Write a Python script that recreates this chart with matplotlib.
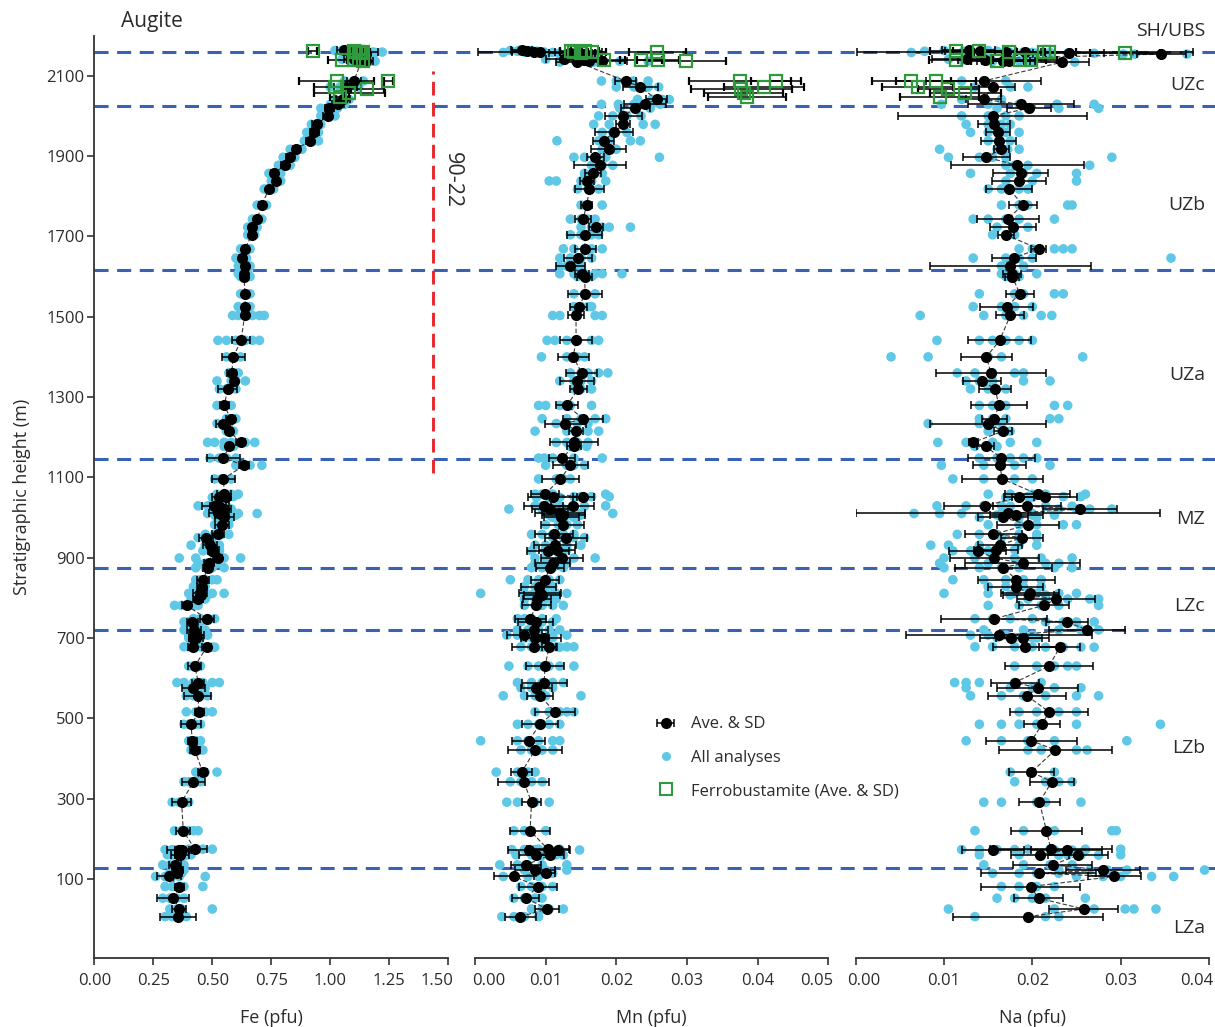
import matplotlib.pyplot as plt
from matplotlib.lines import Line2D
from matplotlib.ticker import FormatStrFormatter
from matplotlib.transforms import ScaledTranslation

plt.rcParams['font.family'] = ['Open Sans', 'DejaVu Sans']

# ===== DATA =====
# sample heights (m), shared by the three panels, grouped by zone
heights = [
    2163, 2161, 2159, 2158, 2156, 2154, 2141, 2139, 2137, 2136, 2134,  # SH/UBS
    2087, 2072, 2041, 2029, 2019,  # UZc
    2000, 1979, 1959, 1938, 1917, 1897, 1877, 1857, 1838, 1818, 1778, 1743, 1723, 1704, 1669, 1646, 1626,  # UZb
    1607, 1600, 1557, 1525, 1503, 1441, 1400, 1360, 1340, 1320, 1279, 1246, 1234, 1215, 1187, 1177,  # UZa
    1148, 1130, 1096, 1058, 1052, 1050, 1029, 1028, 1021, 1010, 1006, 1000, 982, 958, 950, 931, 920, 917, 899, 886, 875,  # MZ
    845, 828, 811, 807, 797, 781, 748, 740, 720,  # LZc
    707, 701, 700, 678, 677, 630, 589, 576, 556, 516, 485, 444, 421, 366, 342, 291, 220, 173, 174, 172, 160, 159, 135,  # LZb
    122, 114, 106, 81, 52, 25, 6,  # LZa
]

fe_avg = [
    1.06, 1.10, 1.12, 1.14, 1.13, 1.15, 1.10, 1.12, 1.14, 1.15, 1.13,
    1.10, 1.065, 1.053, 1.032, 0.996,
    0.989, 0.942, 0.932, 0.914, 0.855, 0.829, 0.808, 0.761, 0.770, 0.740, 0.709, 0.691, 0.670, 0.667, 0.639, 0.625, 0.639,
    0.634, 0.634, 0.639, 0.639, 0.637, 0.622, 0.589, 0.582, 0.592, 0.565, 0.551, 0.578, 0.547, 0.572, 0.620, 0.572,
    0.547, 0.635, 0.547, 0.551, 0.560, 0.530, 0.508, 0.530, 0.550, 0.525, 0.540, 0.550, 0.540, 0.525, 0.474, 0.491, 0.505, 0.500, 0.523, 0.486, 0.480,
    0.462, 0.455, 0.448, 0.450, 0.440, 0.391, 0.477, 0.416, 0.423,
    0.433, 0.430, 0.420, 0.417, 0.476, 0.426, 0.441, 0.420, 0.438, 0.445, 0.410, 0.415, 0.426, 0.459, 0.420, 0.370, 0.377, 0.360, 0.426, 0.370, 0.363, 0.360, 0.342,
    0.356, 0.350, 0.317, 0.360, 0.335, 0.360, 0.356,
]
fe_sd = [
    0.03, 0.05, 0.03, 0.06, 0.03, 0.02, 0.04, 0.05, 0.03, 0.03, 0.02,
    0.03, 0.05, 0.03, 0.025, 0.02,
    0.02, 0.02, 0.02, 0.015, 0.015, 0.015, 0.015, 0.012, 0.01, 0.01, 0.01, 0.01, 0.01, 0.01, 0.01, 0.012, 0.01,
    0.01, 0.01, 0.01, 0.01, 0.01, 0.037, 0.05, 0.02, 0.01, 0.04, 0.02, 0.02, 0.03, 0.01, 0.02, 0.01,
    0.07, 0.02, 0.05, 0.03, 0.02, 0.03, 0.05, 0.04, 0.03, 0.04, 0.03, 0.04, 0.03, 0.025, 0.03, 0.03, 0.025, 0.02, 0.02, 0.02, 0.02,
    0.025, 0.02, 0.03, 0.02, 0.02, 0.02, 0.03, 0.025, 0.03,
    0.03, 0.03, 0.02, 0.02, 0.02, 0.028, 0.025, 0.05, 0.056, 0.02, 0.044, 0.02, 0.02, 0.02, 0.05, 0.039, 0.03, 0.05, 0.05, 0.03, 0.04, 0.02, 0.025,
    0.02, 0.02, 0.05, 0.02, 0.068, 0.03, 0.076,
]
mn_avg = [
    .0066, .0073, .0083, .0092, .0135, .0154, .0126, .0154, .0161, .0180, .0145,
    .0213, .0234, .0257, .0241, .0227,
    .0210, .0210, .0197, .0182, .0189, .0170, .0177, .0167, .0159, .0162, .0158, .0153, .0171, .0155, .0156, .0146, .0135,
    .0151, .0155, .0156, .0147, .0143, .0143, .0139, .0151, .0145, .0146, .0130, .0153, .0128, .0143, .0140, .0140,
    .0123, .0135, .0121, .0099, .0153, .0110, .0097, .0138, .0106, .0120, .0125, .0122, .0124, .0112, .0129, .0113, .0116, .0103, .0123, .0110, .0106,
    .0099, .0090, .0092, .0095, .0088, .0087, .0078, .0086, .0083,
    .0070, .0097, .0085, .0084, .0105, .0099, .0098, .0087, .0092, .0113, .0092, .0076, .0085, .0066, .0069, .0080, .0078, .0077, .0103, .0117, .0087, .0106, .0072,
    .0085, .0100, .0055, .0089, .0072, .0102, .0064,
]
mn_sd = [
    .0015, .002, .003, .0088, .003, .0025, .0025, .003, .002, .0035, .003,
    .0015, .0025, .0015, .003, .002,
    .0026, .001, .0027, .0015, .0025, .0012, .0037, .0012, .001, .002, .0008, .0011, .001, .0025, .0015, .002, .002,
    .001, .001, .0024, .0012, .0011, .0022, .0022, .0022, .0024, .0012, .0016, .0028, .0029, .001, .0034, .001,
    .0018, .0025, .0026, .002, .0015, .0035, .0028, .003, .0025, .0035, .003, .0025, .003, .0027, .003, .003, .0025, .003, .003, .0025, .002,
    .002, .0025, .003, .0025, .002, .002, .0022, .0025, .002,
    .0025, .0025, .002, .0032, .001, .0027, .0032, .0022, .0019, .0028, .0025, .0023, .0038, .0015, .0036, .0014, .0028, .003, .003, .0017, .0025, .002, .0021,
    .0028, .0013, .0028, .0027, .0019, .0017, .0022,
]
na_avg = [
    .0128, .0141, .0170, .0192, .0241, .0346, .0126, .0146, .0167, .0173, .0234,
    .0145, .0155, .0145, .0187, .0196,
    .0155, .0157, .0161, .0162, .0165, .0148, .0183, .0187, .0185, .0174, .0189, .0172, .0178, .0170, .0207, .0179, .0175,
    .0177, .0177, .0186, .0171, .0175, .0163, .0148, .0153, .0143, .0158, .0162, .0157, .0150, .0167, .0133, .0147,
    .0165, .0163, .0166, .0206, .0214, .0185, .0146, .0194, .0254, .0172, .0182, .0167, .0195, .0156, .0188, .0163, .0159, .0138, .0157, .0189, .0167,
    .0182, .0181, .0197, .0196, .0227, .0213, .0157, .0239, .0262,
    .0162, .0176, .0189, .0192, .0231, .0219, .0180, .0206, .0194, .0219, .0211, .0199, .0226, .0199, .0222, .0208, .0216, .0155, .0221, .0239, .0209, .0252, .0223,
    .0280, .0207, .0293, .0198, .0207, .0258, .0195,
]
na_sd = [
    .003, .004, .004, .019, .004, .0028, .004, .003, .003, .003, .003,
    .0065, .0025, .002, .006, .0025,
    .0107, .0018, .0014, .002, .0008, .0027, .0075, .0031, .0031, .0026, .0016, .0035, .0026, .0009, .0009, .0025, .0091,
    .001, .0008, .0016, .003, .0016, .0036, .0029, .0062, .0022, .0018, .0032, .0014, .0066, .001, .0005, .001,
    .0038, .003, .0046, .0037, .0037, .0017, .0046, .0039, .0042, .0172, .003, .0028, .0035, .0032, .0024, .0025, .0025, .0032, .005, .0065, .0055,
    .0044, .0031, .0033, .0029, .0044, .0028, .006, .0024, .0043,
    .0105, .0035, .003, .0037, .0023, .005, .0027, .0046, .0044, .0044, .002, .0052, .0064, .0026, .0025, .0023, .004, .0035, .0069, .004, .0033, .0034, .0045,
    .0042, .0065, .003, .0056, .0028, .0039, .0085,
]

# individual analyses per sample
fe_all = [
    [1.02, 1.05, 1.08], [1.07, 1.12, 1.15], [1.09, 1.14, 1.18, 1.22], [1.10, 1.16, 1.19], [1.11, 1.14, 1.17], [1.13, 1.16, 1.18],
    [1.05, 1.10, 1.15], [1.08, 1.13, 1.17], [1.11, 1.15, 1.18], [1.12, 1.16, 1.19], [1.10, 1.13, 1.16],
    [1.06, 1.10, 1.14], [1.00, 1.04, 1.08, 1.12], [1.02, 1.05, 1.08], [1.00, 1.03, 1.06], [0.96, 0.99, 1.03],
    [0.96, 0.98, 1.00, 1.02], [0.92, 0.94, 0.96], [0.90, 0.93, 0.95], [0.89, 0.91, 0.93, 0.95], [0.83, 0.86, 0.88], [0.80, 0.83, 0.85],
    [0.78, 0.81, 0.83], [0.74, 0.76, 0.79], [0.75, 0.77, 0.79], [0.72, 0.74, 0.76], [0.69, 0.71, 0.73], [0.67, 0.69, 0.71],
    [0.65, 0.67, 0.69], [0.65, 0.667, 0.68], [0.62, 0.64, 0.66], [0.60, 0.625, 0.645], [0.61, 0.63, 0.66],
    [0.61, 0.63, 0.65], [0.62, 0.64, 0.66], [0.62, 0.64, 0.66], [0.61, 0.64, 0.66], [0.586, 0.61, 0.64, 0.67, 0.70, 0.72],
    [0.524, 0.56, 0.60, 0.64, 0.67, 0.70], [0.56, 0.59, 0.62], [0.57, 0.59, 0.61], [0.52, 0.58, 0.60, 0.64], [0.53, 0.56, 0.60],
    [0.52, 0.55, 0.58], [0.56, 0.58, 0.60], [0.52, 0.55, 0.57], [0.56, 0.575, 0.59], [0.48, 0.51, 0.55, 0.58, 0.64, 0.68], [0.55, 0.57, 0.59],
    [0.49, 0.53, 0.56, 0.60], [0.60, 0.63, 0.66, 0.71], [0.51, 0.54, 0.58], [0.52, 0.55, 0.58, 0.61], [0.54, 0.56, 0.59], [0.50, 0.53, 0.56],
    [0.44, 0.48, 0.51, 0.53], [0.50, 0.53, 0.56], [0.53, 0.55, 0.58], [0.48, 0.51, 0.53, 0.56, 0.61, 0.69], [0.51, 0.54, 0.57, 0.60],
    [0.52, 0.55, 0.58], [0.51, 0.54, 0.57], [0.47, 0.51, 0.54, 0.57], [0.44, 0.47, 0.50], [0.41, 0.47, 0.49, 0.51, 0.53], [0.47, 0.50, 0.53],
    [0.46, 0.50, 0.53], [0.36, 0.43, 0.51, 0.53, 0.55, 0.62], [0.44, 0.47, 0.49, 0.52], [0.43, 0.47, 0.50, 0.55],
    [0.43, 0.45, 0.47, 0.50, 0.52], [0.42, 0.45, 0.47], [0.40, 0.43, 0.45, 0.47, 0.50, 0.55], [0.42, 0.45, 0.48], [0.41, 0.44, 0.47],
    [0.34, 0.37, 0.39, 0.42, 0.44], [0.42, 0.45, 0.48, 0.51], [0.38, 0.40, 0.43, 0.45], [0.38, 0.41, 0.44, 0.47],
    [0.40, 0.43, 0.46, 0.48], [0.41, 0.43, 0.45], [0.40, 0.42, 0.44], [0.38, 0.40, 0.42, 0.45], [0.46, 0.48, 0.50, 0.51],
    [0.40, 0.42, 0.44, 0.45], [0.35, 0.38, 0.42, 0.46, 0.50, 0.53], [0.39, 0.42, 0.45, 0.47], [0.39, 0.42, 0.45, 0.48],
    [0.39, 0.43, 0.45, 0.47, 0.50], [0.38, 0.40, 0.43, 0.45], [0.40, 0.41, 0.43, 0.45], [0.41, 0.43, 0.45, 0.46],
    [0.43, 0.45, 0.47, 0.52], [0.38, 0.40, 0.43, 0.45], [0.33, 0.36, 0.38, 0.40], [0.34, 0.37, 0.40, 0.42, 0.44],
    [0.30, 0.33, 0.36, 0.40], [0.40, 0.43, 0.46, 0.50], [0.34, 0.37, 0.40], [0.31, 0.35, 0.38, 0.41], [0.33, 0.36, 0.39],
    [0.29, 0.32, 0.35, 0.38],
    [0.33, 0.35, 0.38], [0.32, 0.34, 0.37], [0.26, 0.30, 0.33, 0.36, 0.47], [0.30, 0.33, 0.36, 0.38, 0.46], [0.29, 0.32, 0.35, 0.38],
    [0.32, 0.35, 0.37, 0.50], [0.30, 0.33, 0.36, 0.39],
]
mn_all = [
    [.0050, .0062, .0080], [.0060, .0075, .0088], [.0070, .0085, .0098], [.0040, .0090, .0110, .0140], [.0118, .0132, .0150],
    [.0135, .0155, .0172], [.0100, .0125, .0148], [.0128, .0150, .0178], [.0142, .0160, .0180], [.0160, .0182, .0205, .0245],
    [.0120, .0145, .0168],
    [.0179, .0200, .0224, .0245], [.0200, .0225, .0245, .0260], [.0230, .0250, .0265, .0275], [.0179, .0203, .0225, .0250, .0262],
    [.0205, .0225, .0248],
    [.0175, .0195, .0215, .0235], [.0168, .0190, .0210, .0238, .0255], [.0180, .0195, .0215], [.0116, .0175, .0190, .0220, .0234],
    [.0180, .0190, .0200], [.0140, .0155, .0170, .0185, .0261], [.0165, .0180, .0195], [.0155, .0168, .0180],
    [.0105, .0115, .0150, .0165, .0185], [.0145, .0160, .0175], [.0150, .0160, .0180], [.0135, .0150, .0160, .0170],
    [.0150, .0165, .0180, .0190, .0220], [.0135, .0150, .0165, .0175], [.0125, .0140, .0155, .0165, .0180],
    [.0120, .0135, .0150, .0165], [.0120, .0130, .0140, .0150],
    [.0120, .0140, .0155, .0170, .0180, .0208], [.0145, .0155, .0165], [.0140, .0155, .0170], [.0140, .0150, .0160, .0165],
    [.0110, .0120, .0145, .0170, .0180], [.0102, .0113, .0130, .0145, .0165, .0175], [.0094, .0130, .0145, .0155],
    [.0135, .0150, .0160, .0175, .0188], [.0120, .0140, .0150, .0165], [.0140, .0150, .0165], [.0090, .0100, .0120, .0135, .0165],
    [.0095, .0130, .0150, .0170, .0185], [.0115, .0130, .0145, .0160], [.0085, .0130, .0145, .0160, .0175],
    [.0115, .0130, .0145, .0160], [.0135, .0145, .0158],
    [.0090, .0098, .0110, .0125, .0140, .0180], [.0100, .0130, .0140, .0155], [.0090, .0115, .0125, .0135], [.0085, .0095, .0110, .0185],
    [.0140, .0150, .0165, .0190], [.0087, .0105, .0120], [.0085, .0095, .0110, .0185], [.0120, .0138, .0155],
    [.0048, .0095, .0110, .0125], [.0100, .0115, .0130, .0150, .0195], [.0105, .0120, .0135, .0150], [.0110, .0125, .0140],
    [.0100, .0118, .0130, .0145], [.0080, .0095, .0110, .0125, .0140], [.0110, .0125, .0140, .0155],
    [.0085, .0100, .0115, .0130, .0150], [.0100, .0115, .0130], [.0080, .0100, .0120], [.0085, .0100, .0120, .0140, .0170],
    [.0085, .0100, .0115, .0130], [.0080, .0095, .0110, .0125],
    [.0050, .0075, .0090, .0105, .0120], [.0070, .0085, .0100, .0110], [.0008, .0070, .0085, .0100, .0115, .0130],
    [.0080, .0095, .0110], [.0070, .0085, .0100, .0115], [.0070, .0085, .0095, .0110, .0125], [.0060, .0070, .0080, .0095, .0115],
    [.0065, .0080, .0095, .0110], [.0060, .0075, .0090, .0105, .0120],
    [.0045, .0060, .0075, .0090, .0110, .0130], [.0080, .0095, .0110], [.0070, .0085, .0100],
    [.0065, .0080, .0095, .0115, .0130, .0140], [.0095, .0105, .0120], [.0048, .0075, .0090, .0105, .0120, .0140],
    [.0060, .0080, .0095, .0110, .0125], [.0065, .0080, .0095, .0110], [.0040, .0070, .0085, .0100, .0150],
    [.0085, .0105, .0120, .0130, .0140], [.0060, .0075, .0090, .0105, .0120], [.0008, .0060, .0075, .0090, .0110, .0120],
    [.0065, .0080, .0095, .0110], [.0030, .0060, .0075, .0085], [.0050, .0065, .0080, .0095], [.0045, .0060, .0085, .0105],
    [.0055, .0070, .0080, .0100], [.0052, .0070, .0085], [.0090, .0105, .0120], [.0105, .0120, .0148],
    [.0058, .0080, .0095, .0115], [.0095, .0110, .0125], [.0035, .0060, .0075, .0095, .0130],
    [.0070, .0085, .0100, .0130], [.0090, .0100, .0110], [.0040, .0055, .0075, .0090], [.0065, .0080, .0095, .0110],
    [.0055, .0070, .0085, .0095], [.0080, .0095, .0105, .0125], [.0038, .0055, .0070, .0090],
]
na_all = [
    [.0100, .0128, .0150], [.0078, .0122, .0141, .0160], [.0150, .0170, .0190], [.0063, .0175, .0200, .0220], [.0205, .0240, .0270],
    [.0303, .0316, .0346, .0375], [.0105, .0126, .0148], [.0120, .0146, .0170], [.0150, .0167, .0185], [.0155, .0173, .0195],
    [.0200, .0234, .0248],
    [.0120, .0145, .0170], [.0135, .0155, .0175, .0195], [.0120, .0145, .0165], [.0097, .0150, .0185, .0228, .0270],
    [.0160, .0195, .0230, .0275],
    [.0120, .0150, .0170, .0185], [.0125, .0150, .0165, .0175], [.0130, .0150, .0170, .0185], [.0150, .0162, .0175],
    [.0095, .0160, .0172, .0185], [.0105, .0140, .0155, .0170, .0290], [.0170, .0180, .0195, .0265],
    [.0130, .0175, .0190, .0205, .0250], [.0170, .0185, .0200, .0250], [.0150, .0165, .0185, .0195],
    [.0165, .0185, .0195, .0240, .0245], [.0133, .0150, .0170, .0185, .0225], [.0160, .0178, .0195], [.0155, .0170, .0180],
    [.0185, .0200, .0225, .0235, .0245], [.0133, .0170, .0185, .0200, .0357], [.0165, .0175, .0190],
    [.0165, .0180, .0205], [.0170, .0178, .0185], [.0140, .0180, .0190, .0225, .0235], [.0133, .0165, .0180, .0200],
    [.0073, .0145, .0170, .0190, .0210, .0222], [.0092, .0140, .0155, .0170, .0185, .0200], [.0040, .0082, .0150, .0165, .0257],
    [.0115, .0135, .0155, .0180, .0190], [.0125, .0140, .0155, .0190, .0220], [.0130, .0150, .0170],
    [.0140, .0155, .0170, .0225, .0240], [.0140, .0155, .0170, .0220, .0230], [.0082, .0140, .0155, .0165], [.0150, .0165, .0175],
    [.0093, .0125, .0155, .0175, .0205], [.0135, .0150, .0160],
    [.0140, .0160, .0175, .0190, .0205], [.0097, .0145, .0165, .0180, .0220], [.0110, .0145, .0165, .0180, .0200],
    [.0150, .0175, .0200, .0215, .0260], [.0195, .0215, .0235, .0255], [.0170, .0185, .0200], [.0092, .0125, .0145, .0165],
    [.0175, .0195, .0215, .0245], [.0230, .0250, .0265, .0290], [.0066, .0095, .0120, .0165, .0200], [.0160, .0180, .0200, .0225],
    [.0140, .0165, .0185, .0205], [.0150, .0185, .0205, .0235, .0250], [.0115, .0140, .0160, .0185, .0205], [.0165, .0185, .0205],
    [.0085, .0105, .0140, .0165, .0185, .0205], [.0140, .0160, .0180], [.0110, .0130, .0150],
    [.0100, .0135, .0155, .0180, .0210, .0245], [.0095, .0150, .0190, .0215, .0230], [.0100, .0140, .0165, .0185, .0225, .0245],
    [.0110, .0145, .0170, .0190, .0210], [.0150, .0170, .0190, .0210], [.0100, .0150, .0180, .0205, .0230, .0250],
    [.0175, .0195, .0215], [.0195, .0215, .0240, .0265, .0275], [.0150, .0185, .0210, .0230, .0275], [.0135, .0155, .0175, .0200],
    [.0215, .0235, .0250, .0270], [.0145, .0190, .0230, .0255, .0275],
    [.0130, .0150, .0170, .0200], [.0160, .0180, .0200], [.0175, .0190, .0205], [.0135, .0155, .0180, .0200],
    [.0215, .0235, .0255, .0270], [.0180, .0205, .0225, .0240, .0250], [.0112, .0125, .0140, .0180, .0210],
    [.0125, .0175, .0200, .0225, .0255], [.0130, .0165, .0190, .0215, .0250, .0275], [.0185, .0205, .0230, .0250],
    [.0140, .0165, .0185, .0205, .0250, .0345], [.0125, .0165, .0195, .0225, .0307], [.0195, .0210, .0225, .0250, .0262],
    [.0175, .0200, .0225], [.0180, .0215, .0230, .0245], [.0145, .0165, .0205, .0215, .0255], [.0135, .0190, .0225, .0290, .0295],
    [.0120, .0140, .0160, .0180], [.0195, .0220, .0260, .0300], [.0225, .0245, .0260], [.0140, .0185, .0210, .0240, .0300],
    [.0230, .0255, .0275], [.0145, .0190, .0220, .0245],
    [.0230, .0265, .0285, .0307, .0395], [.0155, .0185, .0205, .0230], [.0250, .0280, .0300, .0335, .0360],
    [.0165, .0185, .0205, .0225], [.0160, .0180, .0200, .0215, .0260], [.0105, .0225, .0270, .0305, .0315, .0340],
    [.0135, .0195, .0215, .0230],
]

# ferrobustamite (ave. & SD)
fb_heights = [2162, 2161, 2160, 2159, 2158, 2157, 2140, 2139, 2138, 2137, 2088, 2086, 2071, 2067, 2057, 2046]
fb_fe = [0.925, 1.10, 1.12, 1.14, 1.11, 1.13, 1.051, 1.10, 1.12, 1.14, 1.027, 1.246, 1.02, 1.157, 1.08, 1.04]
fb_fe_sd = [0.02, 0.03, 0.03, 0.03, 0.02, 0.02, 0.06, 0.03, 0.03, 0.02, 0.16, 0.02, 0.09, 0.07, 0.15, 0.04]
fb_mn = [.0136, .0156, .0165, .0258, .0140, .0150, .0182, .0235, .0259, .0299, .0375, .0426, .0409, .0377, .0380, .0385]
fb_mn_sd = [.0015, .002, .002, .004, .002, .002, .003, .003, .003, .0056, .0072, .0035, .0056, .0072, .0056, .0055]
fb_na = [.0114, .0140, .0174, .0213, .0219, .0305, .0113, .0186, .0198, .0160, .0063, .0091, .0070, .0105, .0124, .0095]
fb_na_sd = [.003, .003, .004, .003, .003, .004, .003, .003, .003, .003, .0045, .0045, .004, .0035, .004, .0045]

zone_boundaries = [2160, 2024, 1616, 1146, 874, 720, 128]
zone_names = ['SH/UBS', 'UZc', 'UZb', 'UZa', 'MZ', 'LZc', 'LZb', 'LZa']

for lst in (fe_avg, fe_sd, mn_avg, mn_sd, na_avg, na_sd, fe_all, mn_all, na_all):
    assert len(lst) == len(heights), len(lst)

# ===== STYLE =====
CYAN = '#5ec8e6'
GREEN = '#2e9a3c'
BLUE = '#3a62b2'
RED = '#e8262b'
TXT = '#2b2b2b'

W, H = 1215, 1027
YLIM = (-97, 2199)
fig = plt.figure(figsize=(W / 100, H / 100), dpi=100)


def add_axes_px(x0, x1, y0=36, y1=958):
    return fig.add_axes([x0 / W, 1 - y1 / H, (x1 - x0) / W, (y1 - y0) / H])


def nudge(label, ha, dx_px):
    label.set_horizontalalignment(ha)
    label.set_transform(label.get_transform() + ScaledTranslation(dx_px / 100, 0, fig.dpi_scale_trans))


# zone boundaries run across all panels
lines_ax = add_axes_px(94.3, 1215)
lines_ax.set_xlim(0, 1)
lines_ax.set_ylim(*YLIM)
lines_ax.axis('off')
for b in zone_boundaries:
    lines_ax.axhline(b, color=BLUE, lw=2.2, ls=(0, (4.6, 2.8)))

panels = [
    (94.3, 448.3, fe_avg, fe_sd, fe_all, fb_fe, fb_fe_sd, 1.5, 0.25, 'Fe (pfu)'),
    (475.0, 828.3, mn_avg, mn_sd, mn_all, fb_mn, fb_mn_sd, 0.05, 0.01, 'Mn (pfu)'),
    (855.7, 1209.0, na_avg, na_sd, na_all, fb_na, fb_na_sd, 0.04, 0.01, 'Na (pfu)'),
]

axes = []
containers = []
order = sorted(range(len(heights)), key=lambda i: heights[i])
for x0, x1, avg, sd, pts, fb, fb_sd, xmax, step, label in panels:
    ax = add_axes_px(x0, x1)
    ax.set_facecolor('none')
    xs = [v for vals in pts for v in vals]
    ys = [h for h, vals in zip(heights, pts) for _ in vals]
    ax.scatter(xs, ys, s=48, color=CYAN, edgecolors='none', zorder=2)
    ax.plot([avg[i] for i in order], [heights[i] for i in order],
            color='#3a3a3a', lw=0.8, ls=(0, (4, 2)), zorder=3)
    eb = ax.errorbar(avg, heights, xerr=sd, fmt='o', color='black', ms=7,
                     ecolor='black', elinewidth=1.1, capsize=3.2, capthick=1.1, zorder=4)
    ax.errorbar(fb, fb_heights, xerr=fb_sd, fmt='s', mfc='none', mec=GREEN, ms=8.5, mew=1.6,
                ecolor='black', elinewidth=1.1, capsize=3.2, capthick=1.1, zorder=5)
    ax.set_xlim(0, xmax)
    ax.set_ylim(*YLIM)
    n = int(round(xmax / step))
    ax.set_xticks([i * step for i in range(n + 1)])
    ax.xaxis.set_major_formatter(FormatStrFormatter('%.2f'))
    for s in ('top', 'right', 'left'):
        ax.spines[s].set_visible(False)
    ax.spines['bottom'].set_color('#333333')
    ax.spines['bottom'].set_linewidth(1.3)
    ax.tick_params(axis='x', length=5, width=1.2, color='#333333', pad=6, labelsize=12, labelcolor=TXT)
    ax.set_yticks([])
    ax.set_xlabel(label, fontsize=13, color=TXT)
    ax.xaxis.set_label_coords(0.5, -0.055)
    axes.append(ax)
    containers.append(eb)

ax_fe, ax_mn, ax_na = axes

# end tick labels sit inside their panel as in the original
nudge(ax_fe.get_xticklabels()[-1], 'right', 5)
nudge(ax_mn.get_xticklabels()[0], 'left', -3)
nudge(ax_mn.get_xticklabels()[-1], 'right', 5)
nudge(ax_na.get_xticklabels()[0], 'left', -9)
nudge(ax_na.get_xticklabels()[-1], 'right', 4)

# left axis only on Fe panel
ax_fe.spines['left'].set_visible(True)
ax_fe.spines['left'].set_color('#333333')
ax_fe.spines['left'].set_linewidth(1.3)
ax_fe.set_yticks(range(100, 2101, 200))
ax_fe.tick_params(axis='y', length=5, width=1.2, color='#333333', pad=2, labelsize=12, labelcolor=TXT)
ax_fe.set_ylabel('Stratigraphic height (m)', fontsize=13, color=TXT,
                 family=['Liberation Sans Narrow', 'Open Sans', 'DejaVu Sans'])
ax_fe.yaxis.set_label_coords(-0.18, 0.5)

# drill core 90-22
ax_fe.plot([1.435, 1.435], [1111, 2113], color=RED, lw=2.1, ls=(0, (4.7, 2.5)), zorder=1)
fig.text(452 / W, 1 - 180 / H, '90-22', rotation=-90, ha='center', va='center', fontsize=15.5, color=TXT)

fig.text(121 / W, 1 - 22 / H, 'Augite', ha='left', va='center', fontsize=15, color=TXT)

zone_label_y = [31, 85, 205, 375, 519, 606, 748, 928]
for name, y in zip(zone_names, zone_label_y):
    fig.text(1205 / W, 1 - y / H, name, ha='right', va='center', fontsize=14, color=TXT)

# legend
cyan_h = Line2D([], [], ls='none', marker='o', ms=6.5, color=CYAN, mec='none')
green_h = Line2D([], [], ls='none', marker='s', ms=8.5, mfc='none', mec=GREEN, mew=1.5)
ax_mn.legend([containers[1], cyan_h, green_h], ['Ave. & SD', 'All analyses', 'Ferrobustamite (Ave. & SD)'],
             loc='upper left', bbox_to_anchor=(0.5015, 0.262), frameon=False, fontsize=12,
             handlelength=1.6, handletextpad=0.75, labelspacing=1.04, borderpad=0, borderaxespad=0,
             labelcolor=TXT)

fig.savefig('out.png', dpi=100)
